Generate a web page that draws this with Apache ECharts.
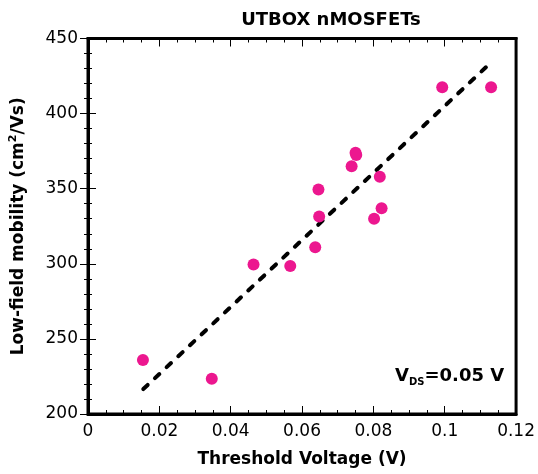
<!DOCTYPE html>
<html>
<head>
<meta charset="utf-8">
<script src="https://cdn.jsdelivr.net/npm/echarts@6/dist/echarts.min.js"></script>
<style>
  html, body { margin: 0; padding: 0; background: #fff; }
  #myChart { width: 538px; height: 474px; }
</style>
</head>
<body>
<div id="myChart"></div>
<script>
// measured points: threshold voltage (V) vs low-field mobility (cm2/Vs)
var vthData = [0.0154, 0.0347, 0.0464, 0.0567, 0.0637, 0.0646, 0.0648, 0.0739, 0.0750, 0.0752, 0.0802, 0.0818, 0.0823, 0.0993, 0.1130];
var mobilityData = [236, 223.5, 299.5, 298.5, 311, 349.5, 331.5, 365, 374, 372.5, 330, 358, 337, 417.5, 417.5];
// linear fit end points
var fitX = [0.0155, 0.1126];
var fitY = [216.6, 433.2];

var xTicks = [0, 0.02, 0.04, 0.06, 0.08, 0.1, 0.12];
var yTicks = [200, 250, 300, 350, 400, 450];

var points = vthData.map(function (v, i) { return [v, mobilityData[i]]; });
var fitLine = fitX.map(function (v, i) { return [v, fitY[i]]; });

var myChart = echarts.init(document.getElementById('myChart'));
var fontName = '"DejaVu Sans", sans-serif';

var tickLabel = function (v) { return String(+v.toFixed(2)); };

// shared frame styling, ticks point into the plot
var frameLine = { show: true, lineStyle: { color: '#000', width: 3 } };
var majorTick = { show: true, inside: true, length: 8, lineStyle: { color: '#000', width: 1 } };

var option = {
    backgroundColor: '#fff',
    animation: false,
    title: {
        text: 'UTBOX nMOSFETs',
        left: 326,
        top: 6,
        textAlign: 'center',
        textStyle: { fontFamily: fontName, fontWeight: 'bold', fontSize: 18, color: '#000' }
    },
    grid: {
        left: 88, top: 38.5, right: 21, bottom: 60,
        show: true, borderColor: '#000', borderWidth: 3, backgroundColor: 'transparent'
    },
    xAxis: [{
        type: 'value',
        min: xTicks[0],
        max: xTicks[xTicks.length - 1],
        interval: 0.02,
        name: 'Threshold Voltage (V)',
        nameLocation: 'middle',
        nameGap: 37,
        nameTextStyle: { fontFamily: fontName, fontWeight: 'bold', fontSize: 17, color: '#000' },
        axisLine: frameLine,
        axisTick: majorTick,
        minorTick: { show: true, splitNumber: 4, length: 4, lineStyle: { color: '#000', width: 1 } },
        splitLine: { show: false },
        axisLabel: { fontFamily: fontName, fontSize: 17, color: '#000', margin: 9, formatter: tickLabel }
    }, {
        type: 'value',
        position: 'top',
        min: xTicks[0],
        max: xTicks[xTicks.length - 1],
        interval: 0.02,
        axisLine: frameLine,
        axisTick: majorTick,
        minorTick: { show: true, splitNumber: 4, length: 4, lineStyle: { color: '#000', width: 1 } },
        splitLine: { show: false },
        axisLabel: { show: false }
    }],
    yAxis: [{
        type: 'value',
        min: yTicks[0],
        max: yTicks[yTicks.length - 1],
        interval: 50,
        name: 'Low-field mobility (cm{sup|2}/Vs)',
        nameLocation: 'middle',
        nameGap: 58,
        nameTextStyle: {
            fontFamily: fontName, fontWeight: 'bold', fontSize: 17, color: '#000',
            rich: {
                sup: { fontFamily: fontName, fontWeight: 'bold', fontSize: 11, color: '#000', verticalAlign: 'top', padding: [0, 0, 11, 0] }
            }
        },
        axisLine: frameLine,
        axisTick: majorTick,
        minorTick: { show: true, splitNumber: 5, length: 4, lineStyle: { color: '#000', width: 1 } },
        splitLine: { show: false },
        axisLabel: { fontFamily: fontName, fontSize: 17, color: '#000', margin: 10 }
    }, {
        type: 'value',
        position: 'right',
        min: yTicks[0],
        max: yTicks[yTicks.length - 1],
        interval: 50,
        axisLine: frameLine,
        axisTick: majorTick,
        minorTick: { show: true, splitNumber: 5, length: 4, lineStyle: { color: '#000', width: 1 } },
        splitLine: { show: false },
        axisLabel: { show: false }
    }],
    graphic: [{
        type: 'text',
        left: 395,
        top: 367,
        style: {
            text: 'V{sub|DS}=0.05 V',
            fontFamily: fontName, fontWeight: 'bold', fontSize: 18, fill: '#000',
            rich: {
                sub: { fontFamily: fontName, fontWeight: 'bold', fontSize: 10, fill: '#000', padding: [13, 0, 0, 0] }
            }
        }
    }],
    series: [{
        name: 'fit',
        type: 'line',
        data: fitLine,
        symbol: 'none',
        z: 2,
        lineStyle: { color: '#000', width: 4, type: [6, 10], cap: 'round' }
    }, {
        name: 'mobility',
        type: 'scatter',
        data: points,
        symbol: 'circle',
        symbolSize: 12,
        z: 3,
        itemStyle: { color: '#ec178f', opacity: 1 }
    }]
};

myChart.setOption(option);
</script>
</body>
</html>
